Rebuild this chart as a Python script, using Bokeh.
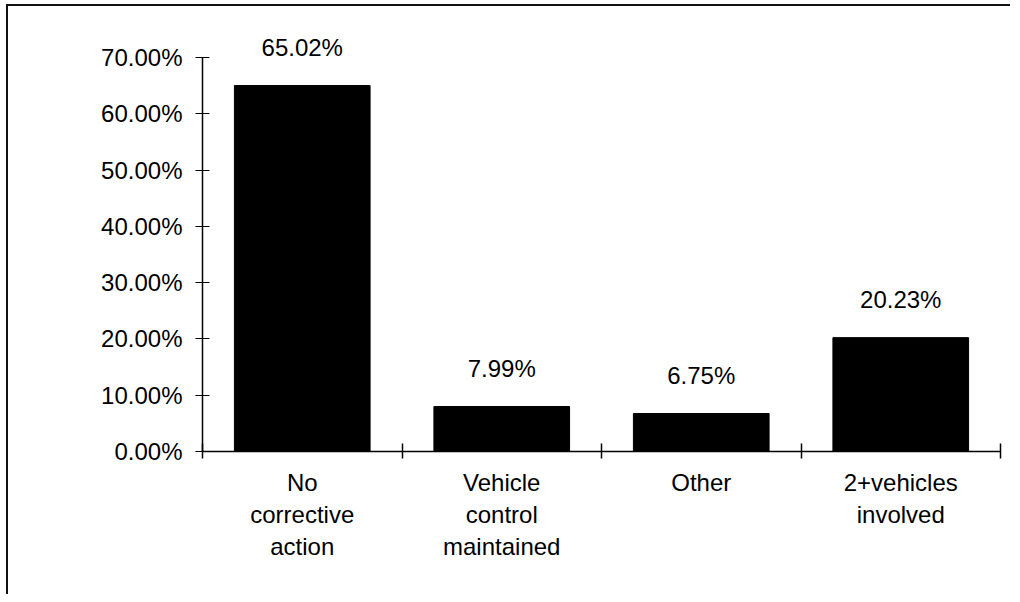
import numpy as np
from bokeh.plotting import figure
from bokeh.models import ColumnDataSource, Range1d, FixedTicker, PrintfTickFormatter
from bokeh.core.properties import value
from bokeh.embed import file_html
from bokeh.resources import INLINE

categories = ["No\ncorrective\naction", "Vehicle\ncontrol\nmaintained", "Other", "2+vehicles\ninvolved"]
percentages = [65.02, 7.99, 6.75, 20.23]
y_ticks = [0, 10, 20, 30, 40, 50, 60, 70]

FONT = "Liberation Sans"

x_centers = list(np.arange(len(categories)) + 0.5)
source = ColumnDataSource(dict(
    x=x_centers,
    top=percentages,
    label=[f"{v:.2f}%" for v in percentages],
))

p = figure(width=1004, height=590, output_backend="svg", toolbar_location=None,
           x_range=Range1d(0, len(categories)), y_range=Range1d(0, 79.06),
           min_border_left=194, min_border_right=12, min_border_top=0, min_border_bottom=145)
p.background_fill_color = "white"
p.border_fill_color = "white"
p.outline_line_color = None
p.grid.grid_line_color = None
p.styles = {"border-left": "2px solid #111", "border-top": "2px solid #111",
            "margin-left": "6px", "margin-top": "4px"}

p.vbar(x="x", top="top", width=0.68, source=source, fill_color="black", line_color="black")
p.text(x="x", y="top", text="label", source=source, text_align="center",
       text_baseline="alphabetic", y_offset=-38, text_font=value(FONT),
       text_font_size="24px", text_color="black")

# y axis
ya = p.yaxis[0]
ya.ticker = FixedTicker(ticks=y_ticks, minor_ticks=[])
ya.formatter = PrintfTickFormatter(format="%.2f%%")
ya.bounds = (0, 70)
ya.major_tick_in = 7
ya.major_tick_out = 7
ya.minor_tick_line_color = None
ya.major_label_standoff = 13
ya.major_label_text_font = FONT
ya.major_label_text_font_size = "24px"
ya.major_label_text_color = "black"
ya.axis_line_color = "black"
ya.axis_line_width = 1.5
ya.major_tick_line_color = "black"

# x axis: labels at centers, ticks at category boundaries
xa = p.xaxis[0]
xa.ticker = FixedTicker(ticks=x_centers, minor_ticks=list(range(len(categories) + 1)))
xa.major_label_overrides = {float(x): c for x, c in zip(x_centers, categories)}
xa.major_tick_in = 0
xa.major_tick_out = 0
xa.minor_tick_in = 8
xa.minor_tick_out = 7
xa.minor_tick_line_color = "black"
xa.minor_tick_line_width = 1.5
xa.axis_line_color = "black"
xa.axis_line_width = 1.5
xa.major_label_standoff = 10
xa.major_label_text_font = FONT
xa.major_label_text_font_size = "24px"
xa.major_label_text_line_height = 1.2
xa.major_label_text_color = "black"
xa.major_label_orientation = "horizontal"

open("out.html", "w").write(file_html(p, INLINE))
